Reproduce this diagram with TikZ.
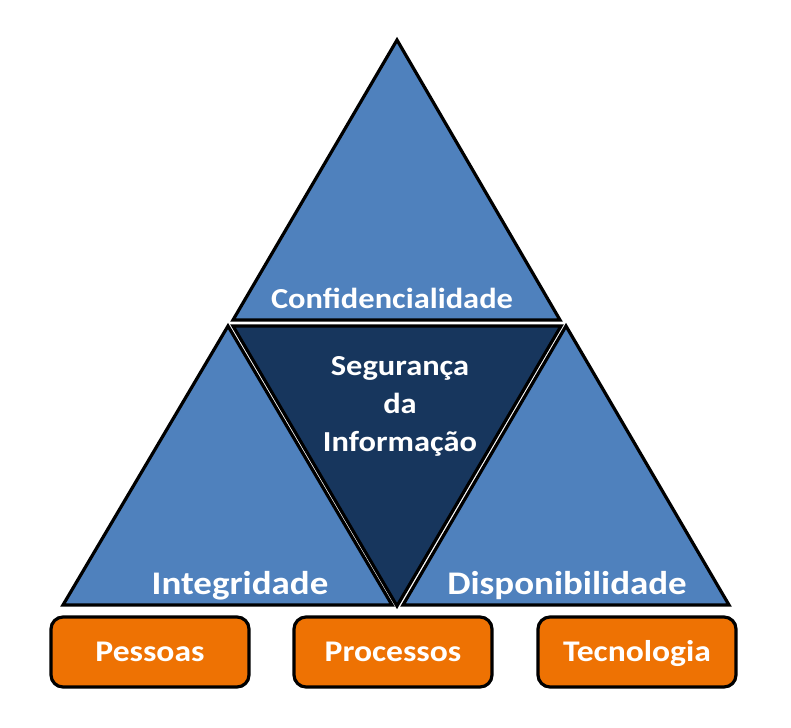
\documentclass[tikz,border=0pt]{standalone}
\usepackage{fontspec}
\usepackage{graphicx}
\setmainfont{Carlito}
\definecolor{triblue}{HTML}{4F81BD}
\definecolor{tridark}{HTML}{17365D}
\definecolor{boxorange}{HTML}{EE7203}
\newcommand{\wide}[1]{\scalebox{1.12}[1]{#1}}
\begin{document}
\begin{tikzpicture}[x=1pt,y=-1pt,
  tri/.style={draw=black,line width=3.2pt,line join=miter,fill=triblue},
  tridk/.style={draw=black,line width=3.2pt,line join=miter,fill=tridark},
  lbl/.style={text=white,inner sep=0pt,anchor=base},
  boxn/.style={draw=black,line width=3.2pt,fill=boxorange,rounded corners=12pt,minimum width=198pt,minimum height=70pt,text=white,font=\bfseries\fontsize{30}{34}\selectfont,text height=19.5pt,text depth=0pt}]
\useasboundingbox (0,0) rectangle (791,727);
% triangles
\draw[tri] (397,40) -- (560,320) -- (233,320) -- cycle;
\draw[tridk] (233,326) -- (561,326) -- (397,606) -- cycle;
\draw[tri] (228,326) -- (392,605) -- (63,605) -- cycle;
\draw[tri] (566,326) -- (729,605) -- (403,605) -- cycle;
% labels
\node[lbl,font=\bfseries\fontsize{29}{32}\selectfont] (conf) at (392,308) {\wide{Confidencialidade}};
\node[lbl,font=\bfseries\fontsize{33}{36}\selectfont] (integ) at (240,594) {\wide{Integridade}};
\node[lbl,font=\bfseries\fontsize{33}{36}\selectfont] (disp) at (567,594) {\wide{Disponibilidade}};
\node[lbl,font=\bfseries\fontsize{29}{32}\selectfont] (seg1) at (400,375) {\wide{Segurança}};
\node[lbl,font=\bfseries\fontsize{29}{32}\selectfont] (seg2) at (400,413) {\wide{da}};
\node[lbl,font=\bfseries\fontsize{29}{32}\selectfont] (seg3) at (400,451) {\wide{Informação}};
% boxes
\node[boxn] (pess) at (150,652) {\wide{Pessoas}};
\node[boxn] (proc) at (393,652) {\wide{Processos}};
\node[boxn] (tecn) at (637,652) {\wide{Tecnologia}};
\end{tikzpicture}
\end{document}
